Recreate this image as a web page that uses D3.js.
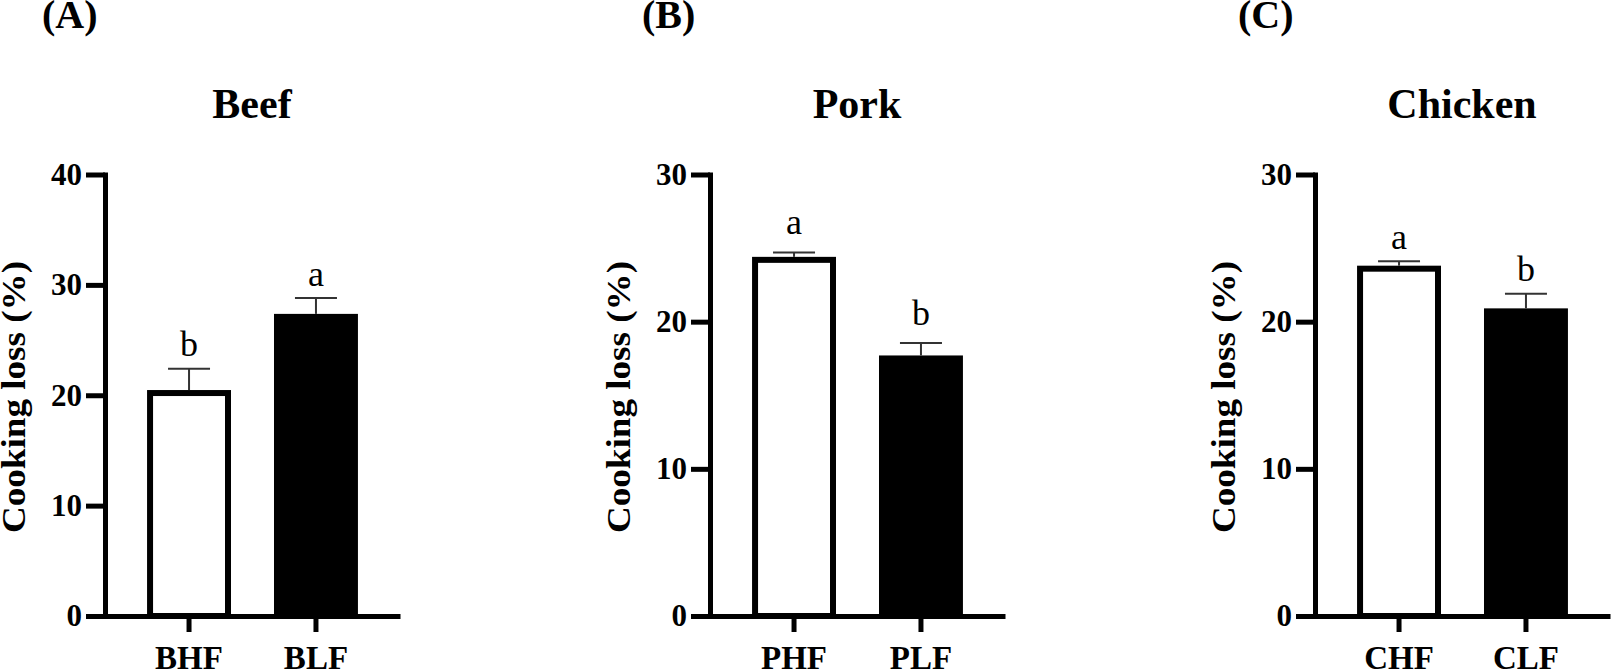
<!DOCTYPE html>
<html>
<head>
<meta charset="utf-8">
<script src="https://cdn.jsdelivr.net/npm/d3@7"></script>
<style>
  html, body { margin: 0; padding: 0; background: #fff; }
  svg { display: block; }
  text { font-family: "Liberation Serif", "Times New Roman", serif; fill: #000; }
</style>
</head>
<body>
<svg id="chart" width="1611" height="671"></svg>
<script>
// ---- data ----
const panelLabels = ["(A)", "(B)", "(C)"];
const panelTitles = ["Beef", "Pork", "Chicken"];
const beefCats = ["BHF", "BLF"];
const porkCats = ["PHF", "PLF"];
const chickenCats = ["CHF", "CLF"];
const beefMeans = [20.2, 27.1];
const porkMeans = [24.2, 17.5];
const chickenMeans = [23.6, 20.7];
const beefErr = [2.2, 1.7];
const porkErr = [0.5, 1.05];
const chickenErr = [0.5, 1.2];
const beefLetters = ["b", "a"];
const porkLetters = ["a", "b"];
const chickenLetters = ["a", "b"];
const beefTicks = [0, 10, 20, 30, 40];
const porkTicks = [0, 10, 20, 30];
const chickenTicks = [0, 10, 20, 30];
const yLabel = "Cooking loss (%)";
const barFills = ["#ffffff", "#000000"];

// ---- layout ----
const panels = [
  { label: panelLabels[0], title: panelTitles[0], cats: beefCats, means: beefMeans, err: beefErr, letters: beefLetters, ticks: beefTicks,
    axisX: 105, labelX: 42, letterGap: 12.5 },
  { label: panelLabels[1], title: panelTitles[1], cats: porkCats, means: porkMeans, err: porkErr, letters: porkLetters, ticks: porkTicks,
    axisX: 710, labelX: 642, letterGap: 18 },
  { label: panelLabels[2], title: panelTitles[2], cats: chickenCats, means: chickenMeans, err: chickenErr, letters: chickenLetters, ticks: chickenTicks,
    axisX: 1315, labelX: 1238, letterGap: 12.5 }
];
const y0 = 616, yTop = 174.5, xLen = 295;

const svg = d3.select("#chart");

panels.forEach(p => {
  const g = svg.append("g");
  const yMax = d3.max(p.ticks);
  const y = d3.scaleLinear().domain([0, yMax]).range([y0, yTop]);
  const x = d3.scaleBand().domain(p.cats).range([p.axisX, p.axisX + xLen])
    .paddingInner(0.386).paddingOuter(0.355);

  // panel label
  g.append("text").attr("x", p.labelX).attr("y", 28)
    .attr("font-size", 40).attr("font-weight", "bold").text(p.label);

  // title
  g.append("text").attr("x", p.axisX + 147).attr("y", 118)
    .attr("text-anchor", "middle").attr("font-size", 42).attr("font-weight", "bold").text(p.title);

  // y label
  g.append("text")
    .attr("transform", `translate(${p.axisX - 80},397) rotate(-90)`)
    .attr("text-anchor", "middle").attr("font-size", 33).attr("font-weight", "bold")
    .attr("textLength", 272).attr("lengthAdjust", "spacingAndGlyphs")
    .text(yLabel);

  // bars
  g.selectAll("rect.bar").data(p.means).join("rect")
    .attr("class", "bar")
    .attr("x", (d, i) => x(p.cats[i]))
    .attr("width", x.bandwidth())
    .attr("y", d => y(d))
    .attr("height", d => y0 - y(d))
    .attr("fill", (d, i) => barFills[i])
    .attr("stroke", "#000").attr("stroke-width", 6);

  // error bars
  const eb = g.selectAll("g.eb").data(p.means).join("g").attr("class", "eb");
  eb.append("line")
    .attr("x1", (d, i) => x(p.cats[i]) + x.bandwidth() / 2)
    .attr("x2", (d, i) => x(p.cats[i]) + x.bandwidth() / 2)
    .attr("y1", d => y(d) - 3)
    .attr("y2", (d, i) => y(d + p.err[i]))
    .attr("stroke", "#333").attr("stroke-width", 2);
  eb.append("line")
    .attr("x1", (d, i) => x(p.cats[i]) + x.bandwidth() / 2 - 21)
    .attr("x2", (d, i) => x(p.cats[i]) + x.bandwidth() / 2 + 21)
    .attr("y1", (d, i) => y(d + p.err[i]))
    .attr("y2", (d, i) => y(d + p.err[i]))
    .attr("stroke", "#333").attr("stroke-width", 2);

  // significance letters
  g.selectAll("text.letter").data(p.letters).join("text")
    .attr("class", "letter")
    .attr("x", (d, i) => x(p.cats[i]) + x.bandwidth() / 2)
    .attr("y", (d, i) => y(p.means[i] + p.err[i]) - p.letterGap)
    .attr("text-anchor", "middle").attr("font-size", 36).text(d => d);

  // y axis
  const ya = g.append("g").attr("transform", `translate(${p.axisX},0)`)
    .call(d3.axisLeft(y).tickValues(p.ticks).tickFormat(d3.format("d")).tickSize(19).tickSizeOuter(0).tickPadding(4));
  ya.select(".domain").attr("stroke", "#000").attr("stroke-width", 5).attr("stroke-linecap", "square");
  ya.selectAll(".tick line").attr("stroke", "#000").attr("stroke-width", 5);
  ya.selectAll(".tick text").attr("font-family", "Liberation Serif, serif")
    .attr("font-size", 31).attr("font-weight", "bold").attr("fill", "#000");

  // x axis
  const xa = g.append("g").attr("transform", `translate(0,${y0})`)
    .call(d3.axisBottom(x).tickSize(16).tickSizeOuter(0));
  xa.select(".domain").attr("stroke", "#000").attr("stroke-width", 5);
  xa.selectAll(".tick line").attr("stroke", "#000").attr("stroke-width", 5);
  xa.selectAll(".tick text").attr("font-family", "Liberation Serif, serif")
    .attr("font-size", 33).attr("font-weight", "bold").attr("fill", "#000")
    .attr("y", 53).attr("dy", 0);
});
</script>
</body>
</html>
